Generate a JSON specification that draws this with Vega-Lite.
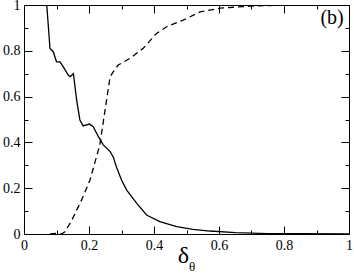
{
  "$schema": "https://vega.github.io/schema/vega-lite/v6.json",
  "width": 325,
  "height": 229,
  "autosize": {"type": "none"},
  "padding": {"left": 24, "top": 5, "right": 5, "bottom": 39},
  "background": "white",
  "config": {"view": {"stroke": "black", "strokeWidth": 1}},
  "datasets": {
    "solid": [
      {"x": 0.070, "y": 1.0}, {"x": 0.080, "y": 0.81}, {"x": 0.090, "y": 0.796}, {"x": 0.100, "y": 0.752},
      {"x": 0.111, "y": 0.752}, {"x": 0.121, "y": 0.73}, {"x": 0.136, "y": 0.694}, {"x": 0.142, "y": 0.687},
      {"x": 0.152, "y": 0.70}, {"x": 0.162, "y": 0.585}, {"x": 0.172, "y": 0.498}, {"x": 0.182, "y": 0.472},
      {"x": 0.201, "y": 0.480}, {"x": 0.213, "y": 0.469}, {"x": 0.229, "y": 0.425}, {"x": 0.244, "y": 0.389},
      {"x": 0.265, "y": 0.36}, {"x": 0.275, "y": 0.335}, {"x": 0.285, "y": 0.29}, {"x": 0.30, "y": 0.236},
      {"x": 0.316, "y": 0.192}, {"x": 0.347, "y": 0.134}, {"x": 0.377, "y": 0.083}, {"x": 0.418, "y": 0.054},
      {"x": 0.47, "y": 0.032}, {"x": 0.52, "y": 0.02}, {"x": 0.572, "y": 0.013}, {"x": 0.65, "y": 0.006},
      {"x": 0.75, "y": 0.002}, {"x": 0.85, "y": 0.001}, {"x": 1.0, "y": 0.0}
    ],
    "dashed": [
      {"x": 0.08, "y": 0.0}, {"x": 0.10, "y": 0.003}, {"x": 0.115, "y": 0.0}, {"x": 0.126, "y": 0.01},
      {"x": 0.147, "y": 0.06}, {"x": 0.177, "y": 0.148}, {"x": 0.203, "y": 0.236}, {"x": 0.229, "y": 0.367},
      {"x": 0.234, "y": 0.396}, {"x": 0.254, "y": 0.585}, {"x": 0.265, "y": 0.687}, {"x": 0.275, "y": 0.709},
      {"x": 0.29, "y": 0.738}, {"x": 0.326, "y": 0.767}, {"x": 0.367, "y": 0.811}, {"x": 0.408, "y": 0.876},
      {"x": 0.439, "y": 0.905}, {"x": 0.49, "y": 0.934}, {"x": 0.542, "y": 0.97}, {"x": 0.572, "y": 0.978},
      {"x": 0.603, "y": 0.986}, {"x": 0.695, "y": 0.995}, {"x": 0.8, "y": 1.0}, {"x": 1.0, "y": 1.0}
    ],
    "labels": [
      {"x": 0.948, "y": 0.945, "t": "(b)", "k": "b"},
      {"x": 0.517, "y": -0.142, "t": "θ", "k": "theta"}
    ]
  },
  "resolve": {"axis": {"x": "independent", "y": "independent"}},
  "layer": [
    {
      "data": {"name": "solid"},
      "mark": {"type": "line", "color": "black", "strokeWidth": 1.3, "clip": true},
      "encoding": {
        "x": {
          "field": "x", "type": "quantitative",
          "scale": {"domain": [0, 1], "nice": false, "zero": false},
          "axis": {
            "orient": "bottom", "values": [0, 0.1, 0.2, 0.3, 0.4, 0.5, 0.6, 0.7, 0.8, 0.9, 1],
            "format": "~g",
            "labelExpr": "round(datum.value*10)%2==0 ? datum.label : ''",
            "tickSize": {"condition": {"test": "round(datum.value*10)%2==0", "value": -8}, "value": -4},
            "tickColor": "black", "domainColor": "black", "grid": false,
            "labelFont": "Liberation Serif", "labelFontSize": 14, "labelColor": "black",
            "labelPadding": 12, "labelFlush": false, "labelOverlap": false,
            "title": "δ", "titleFont": "Liberation Serif", "titleFontSize": 24,
            "titleFontWeight": "normal", "titleColor": "black",
            "titleX": 159, "titleY": 28, "titleBaseline": "alphabetic", "titleAlign": "center"
          }
        },
        "y": {
          "field": "y", "type": "quantitative",
          "scale": {"domain": [0, 1], "nice": false, "zero": false},
          "axis": {
            "orient": "left", "values": [0, 0.1, 0.2, 0.3, 0.4, 0.5, 0.6, 0.7, 0.8, 0.9, 1],
            "format": "~g",
            "labelExpr": "round(datum.value*10)%2==0 ? datum.label : ''",
            "tickSize": {"condition": {"test": "round(datum.value*10)%2==0", "value": -8}, "value": -4},
            "tickColor": "black", "domainColor": "black", "grid": false,
            "labelFont": "Liberation Serif", "labelFontSize": 14, "labelColor": "black",
            "labelPadding": 12, "labelFlush": false, "labelOverlap": false,
            "title": null
          }
        }
      }
    },
    {
      "data": {"name": "dashed"},
      "mark": {"type": "line", "color": "black", "strokeWidth": 1.3, "strokeDash": [6, 4], "clip": true},
      "encoding": {
        "x": {
          "field": "x", "type": "quantitative",
          "scale": {"domain": [0, 1], "nice": false, "zero": false},
          "axis": {
            "orient": "top", "values": [0, 0.1, 0.2, 0.3, 0.4, 0.5, 0.6, 0.7, 0.8, 0.9, 1],
            "labels": false, "title": null, "grid": false,
            "tickSize": {"condition": {"test": "round(datum.value*10)%2==0", "value": -8}, "value": -4},
            "tickColor": "black", "domainColor": "black"
          }
        },
        "y": {
          "field": "y", "type": "quantitative",
          "scale": {"domain": [0, 1], "nice": false, "zero": false},
          "axis": {
            "orient": "right", "values": [0, 0.1, 0.2, 0.3, 0.4, 0.5, 0.6, 0.7, 0.8, 0.9, 1],
            "labels": false, "title": null, "grid": false,
            "tickSize": {"condition": {"test": "round(datum.value*10)%2==0", "value": -8}, "value": -4},
            "tickColor": "black", "domainColor": "black"
          }
        }
      }
    },
    {
      "data": {"name": "labels"},
      "mark": {"type": "text", "font": "Liberation Serif", "color": "black", "align": "center", "baseline": "middle"},
      "encoding": {
        "x": {"field": "x", "type": "quantitative", "axis": null},
        "y": {"field": "y", "type": "quantitative", "axis": null},
        "text": {"field": "t"},
        "size": {"field": "k", "type": "nominal", "scale": {"domain": ["b", "theta"], "range": [20, 13]}, "legend": null}
      }
    }
  ]
}
